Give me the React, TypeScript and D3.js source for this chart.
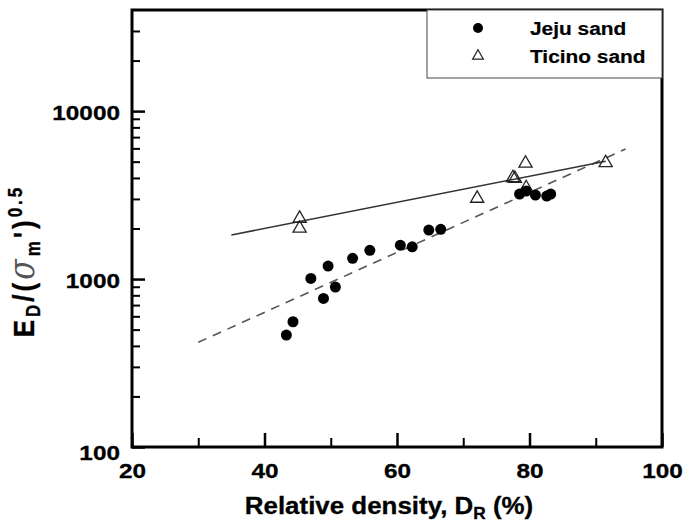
import React, { useEffect, useRef } from "react";
import * as d3 from "d3";

// Jeju sand (filled dots)
const jejuDr = [43.3, 44.3, 47.0, 48.9, 49.6, 50.7, 53.3, 55.9, 60.5, 62.3, 64.8, 66.6, 78.5, 79.5, 80.9, 82.6, 83.2];
const jejuE = [464, 557, 1009, 767, 1194, 896, 1328, 1483, 1592, 1556, 1958, 1977, 3206, 3341, 3162, 3120, 3206];

// Ticino sand (open triangles)
const ticinoDr = [45.3, 45.3, 72.1, 77.5, 77.8, 79.4, 79.5, 91.5];
const ticinoE = [2296, 2004, 3020, 4008, 3963, 4886, 3490, 4920];

// trend lines (end points)
const jejuFitDr = [30, 94.5];
const jejuFitE = [420, 5950];
const ticinoFitDr = [35, 91.5];
const ticinoFitE = [1830, 5030];

// ticks
const xMajor = [20, 40, 60, 80, 100];
const xMinor = [30, 50, 70, 90];
const yMajor = [100, 1000, 10000];
const yMinor = [200, 300, 400, 500, 600, 700, 800, 900, 2000, 3000, 4000, 5000, 6000, 7000, 8000, 9000, 20000, 30000];

const FONT = "'Liberation Sans', Arial, sans-serif";
const SX = 1.16; // the original figure's text is stretched sideways

const App = () => {
  const svgRef = useRef<SVGSVGElement>(null);

  useEffect(() => {
    const svg = d3.select(svgRef.current);
    svg.selectAll("*").remove();

    const left = 132, right = 662, top = 10, bottom = 447;

    const x = d3.scaleLinear().domain([20, 100]).range([left, right]);
    const y = d3.scaleLog().domain([100, 40000]).range([bottom, top]);

    // minor and major ticks, pointing inward
    const tickAxis = (axis, tx, ty, width) => {
      const g = svg.append("g").attr("transform", `translate(${tx},${ty})`).call(axis);
      g.select(".domain").remove();
      g.selectAll("line").attr("stroke", "#000").attr("stroke-width", width);
      return g;
    };

    tickAxis(d3.axisBottom(x).tickValues(xMinor).tickSize(-9).tickFormat(() => ""), 0, bottom, 2);
    tickAxis(d3.axisLeft(y).tickValues(yMinor).tickSize(-8).tickFormat(() => ""), left, 0, 2);

    const styleLabels = (g) =>
      g.selectAll("text")
        .attr("font-family", FONT)
        .attr("font-weight", "bold")
        .attr("font-size", 21)
        .attr("fill", "#000")
        .attr("stroke", "#000")
        .attr("stroke-width", 0.3);

    const gx = tickAxis(
      d3.axisBottom(x).tickValues(xMajor).tickSize(-14).tickPadding(0).tickFormat(d3.format("d")),
      0, bottom, 2.5
    );
    gx.selectAll("text")
      .attr("y", null)
      .attr("dy", null)
      .attr("transform", `translate(0,31) scale(${SX},1)`);
    styleLabels(gx);

    const gy = tickAxis(
      d3.axisLeft(y).tickValues(yMajor).tickSize(-13).tickPadding(0).tickFormat(d3.format("d")),
      left, 0, 2.5
    );
    gy.selectAll("text")
      .attr("x", null)
      .attr("dy", null)
      .attr("transform", (d) => `translate(-12,${d === 100 ? 12 : 8}) scale(${SX},1)`);
    styleLabels(gy);

    // frame
    svg.append("rect")
      .attr("x", left).attr("y", top)
      .attr("width", right - left).attr("height", bottom - top)
      .attr("fill", "none").attr("stroke", "#000").attr("stroke-width", 3);

    // trend lines
    const fit = (drs, es) =>
      d3.line<number>()
        .x((d) => x(d))
        .y((d, i) => y(es[i]))(drs);

    svg.append("path")
      .attr("d", fit(jejuFitDr, jejuFitE))
      .attr("fill", "none").attr("stroke", "#555").attr("stroke-width", 1.6)
      .attr("stroke-dasharray", "9,7");

    svg.append("path")
      .attr("d", fit(ticinoFitDr, ticinoFitE))
      .attr("fill", "none").attr("stroke", "#333").attr("stroke-width", 1.5);

    // markers
    const tri = d3.symbol().type(d3.symbolTriangle).size(75);
    svg.append("g").selectAll("path")
      .data(ticinoDr)
      .enter().append("path")
      .attr("d", tri)
      .attr("transform", (d, i) => `translate(${x(d)},${y(ticinoE[i])})`)
      .attr("fill", "none").attr("stroke", "#222").attr("stroke-width", 1.3);

    svg.append("g").selectAll("circle")
      .data(jejuDr)
      .enter().append("circle")
      .attr("cx", (d) => x(d))
      .attr("cy", (d, i) => y(jejuE[i]))
      .attr("r", 5.5)
      .attr("fill", "#000");

    // legend
    const lg = svg.append("g");
    lg.append("rect")
      .attr("x", 427).attr("y", top)
      .attr("width", right - 427).attr("height", 68)
      .attr("fill", "#fff").attr("stroke", "#444").attr("stroke-width", 1);
    lg.append("circle").attr("cx", 478).attr("cy", 28).attr("r", 5).attr("fill", "#000");
    lg.append("path").attr("d", d3.symbol().type(d3.symbolTriangle).size(50))
      .attr("transform", "translate(478,56)")
      .attr("fill", "none").attr("stroke", "#222").attr("stroke-width", 1.2);
    [["Jeju sand", 35], ["Ticino sand", 63]].forEach(([t, by]) => {
      lg.append("text")
        .attr("transform", `translate(530,${by}) scale(${SX},1)`)
        .attr("font-family", FONT).attr("font-weight", "bold").attr("font-size", 18)
        .attr("stroke", "#000").attr("stroke-width", 0.2)
        .text(t as string);
    });

    // x title
    const xt = svg.append("text")
      .attr("transform", `translate(${(left + right) / 2 - 8},514) scale(1.08,1)`)
      .attr("text-anchor", "middle")
      .attr("font-family", FONT).attr("font-weight", "bold").attr("font-size", 24)
      .attr("stroke", "#000").attr("stroke-width", 0.3);
    xt.append("tspan").text("Relative density, D");
    xt.append("tspan").attr("font-size", 16).attr("dy", 5).text("R");
    xt.append("tspan").attr("dy", -5).text(" (%)");

    // y title
    const yt = svg.append("text")
      .attr("transform", `translate(34,261) rotate(-90) scale(1,${SX})`)
      .attr("text-anchor", "middle")
      .attr("font-family", FONT).attr("font-weight", "bold").attr("font-size", 26)
      .attr("letter-spacing", 3)
      .attr("stroke", "#000").attr("stroke-width", 0.3);
    yt.append("tspan").text("E");
    yt.append("tspan").attr("font-size", 17).attr("dy", 5).text("D");
    yt.append("tspan").attr("dy", -5).text("/(");
    yt.append("tspan")
      .attr("font-family", "'DejaVu Serif', serif").attr("font-style", "italic")
      .attr("font-weight", "normal").attr("font-size", 30)
      .attr("fill", "#555").attr("stroke", "none").text("σ");
    yt.append("tspan").attr("font-size", 17).attr("dy", 5).text("m");
    yt.append("tspan").attr("dy", -5).text("')");
    yt.append("tspan").attr("font-size", 17).attr("dy", -10).text("0.5");
  }, []);

  return (
    <svg
      ref={svgRef}
      width={685}
      height={526}
      style={{ position: "absolute", left: 0, top: 0, background: "#fff" }}
    ></svg>
  );
};

export default App;
